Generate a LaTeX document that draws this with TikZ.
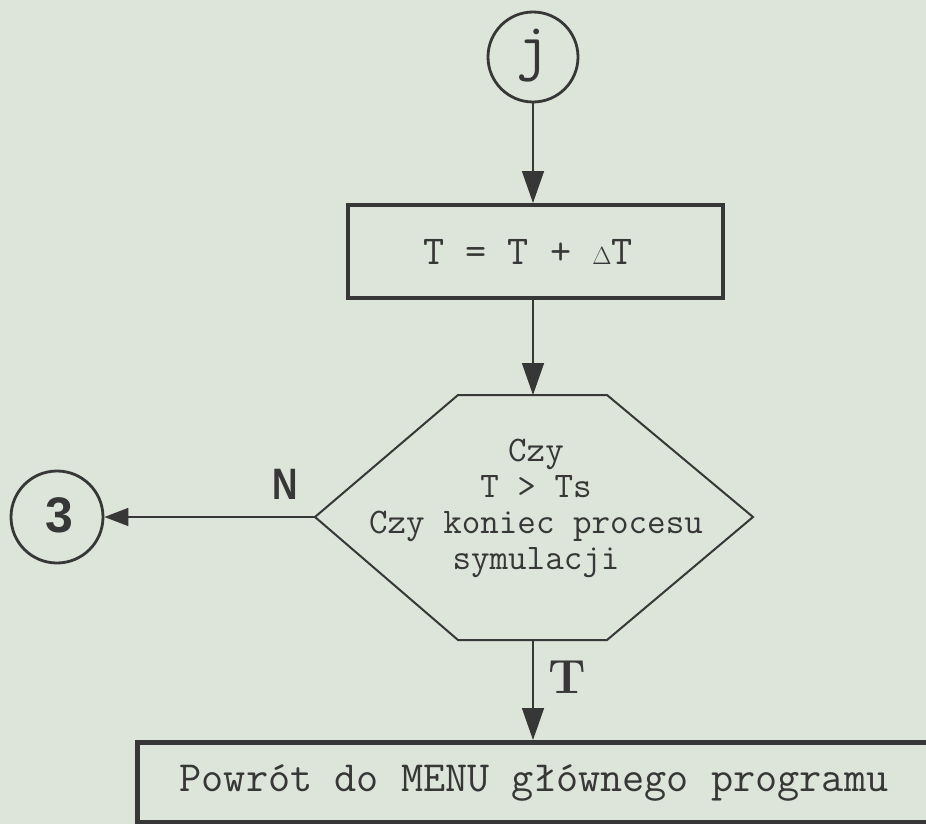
\documentclass[tikz,border=0pt]{standalone}
\usepackage{fontspec}
\usetikzlibrary{arrows.meta,calc}
\newfontfamily\sansB{Liberation Sans}
\definecolor{paper}{RGB}{221,228,218}
\definecolor{ink}{RGB}{55,55,55}
\tikzset{
  thickbox/.style={draw=ink, line width=4.5pt, rectangle, inner sep=0pt},
  ring/.style={draw=ink, line width=2.8pt, circle, inner sep=0pt, minimum size=90pt},
  conn/.style={draw=ink, line width=1.5pt, -{Triangle[length=32pt,width=22pt]}},
  connsmall/.style={draw=ink, line width=1.5pt, -{Triangle[length=24pt,width=18pt]}},
  hexline/.style={draw=ink, line width=2pt, line join=miter},
}
\begin{document}
\begin{tikzpicture}[x=1pt,y=-1pt, text=ink]
\useasboundingbox (0,0) rectangle (926,824);
\fill[paper] (0,0) rectangle (926,824);

% start connector j
\node[ring] (j) at (533,57) {};
\node[font=\ttfamily\fontsize{64}{64}\selectfont] (jtxt) at (533,56) {j};

% T = T + dT box
\node[thickbox, minimum width=375pt, minimum height=93pt] (b1) at (535.5,251.5) {};
\node[font=\ttfamily\fontsize{41}{41}\selectfont] (b1txt) at (528,252) {T = T + $\Delta$T};

% decision hexagon
\coordinate (htl) at (458,395);
\coordinate (htr) at (607,395);
\coordinate (hr) at (753,517);
\coordinate (hbr) at (607,640);
\coordinate (hbl) at (458,640);
\coordinate (hl) at (315,517);
\coordinate (htop) at (533,395);
\coordinate (hbot) at (533,640);
\draw[hexline] (htl) -- (htr) -- (hr) -- (hbr) -- (hbl) -- (hl) -- cycle;
\node[font=\ttfamily\fontsize{36}{36}\selectfont, align=center] (dtxt) at (536,508)
  {Czy\\T > Ts\\Czy koniec procesu\\symulacji};

% connector 3
\node[ring, minimum size=92pt] (c3) at (57,517) {};
\node[font=\sansB\bfseries\fontsize{50}{50}\selectfont] (c3txt) at (59,515) {3};

% labels
\node[font=\sansB\bfseries\fontsize{44}{44}\selectfont, xscale=0.8] (nlab) at (285,484) {N};
\node[font=\rmfamily\bfseries\fontsize{48}{48}\selectfont] (tlab) at (567,677) {T};

% bottom box
\node[thickbox, minimum width=830pt, minimum height=80pt, anchor=north west] (b2) at (135,740) {};
\node[font=\ttfamily\fontsize{43}{43}\selectfont] (b2txt) at (534,783) {Powrót do MENU głównego programu};

% connectors
\coordinate (j1) at (533,203);
\coordinate (b1b) at (533,298);
\coordinate (b2t) at (533,740);
\draw[conn] (j.south) -- (j1);
\draw[conn] (b1b) -- (htop);
\draw[conn] (hbot) -- (b2t);
\draw[connsmall] (hl) -- (c3.east);
\end{tikzpicture}
\end{document}
